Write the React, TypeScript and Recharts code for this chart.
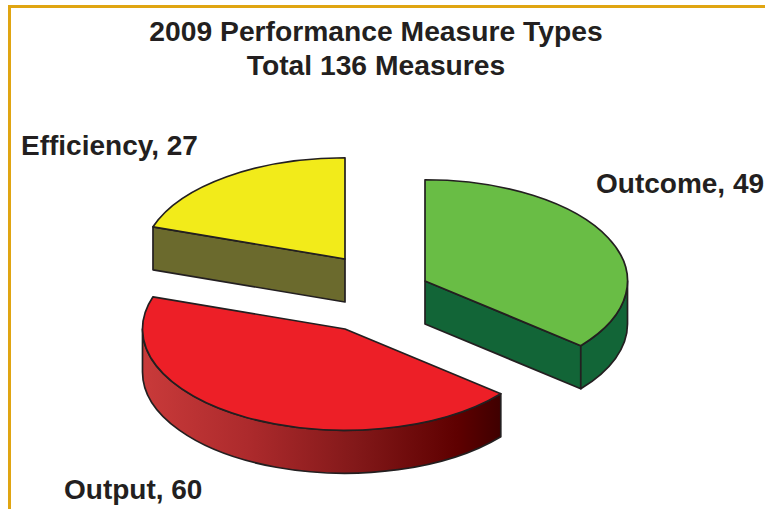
import { PieChart, Pie } from "recharts";

const categories = ["Outcome", "Output", "Efficiency"];
const measures = [49, 60, 27];

const topColors = ["#69bd45", "#ed1f27", "#f2eb1a"];
const wallColors = ["#126537", "url(#outputWall)", "#6b6a2d"];
const explodeOffsets = [
  { dx: 80, dy: 0 },
  { dx: 0, dy: 48 },
  { dx: 0, dy: -22 },
];
const labelPositions = [
  { x: 596, y: 193 },
  { x: 64, y: 499 },
  { x: 21, y: 155 },
];

const chartData = categories.map((name, i) => ({ name, value: measures[i] }));

const SQUASH = 0.5;
const DEPTH = 43;
const INK = "#231f20";
const FONT = "'Liberation Sans', Arial, sans-serif";

const rad = (deg: number) => (deg * Math.PI) / 180;

function Slice3D(props: any) {
  const { cx, cy, outerRadius: r, startAngle, endAngle, index } = props;
  const cxx = cx + explodeOffsets[index].dx;
  const cyy = cy + explodeOffsets[index].dy;
  const rx = r;
  const ry = r * SQUASH;
  const pt = (a: number, drop = 0) => [cxx + rx * Math.cos(rad(a)), cyy - ry * Math.sin(rad(a)) + drop];
  const hi = Math.max(startAngle, endAngle);
  const lo = Math.min(startAngle, endAngle);

  // angles run clockwise on screen from hi down to lo
  const arc = (from: number, to: number, drop = 0, move = true) => {
    const [x0, y0] = pt(from, drop);
    const [x1, y1] = pt(to, drop);
    const large = Math.abs(from - to) > 180 ? 1 : 0;
    const sweep = from > to ? 1 : 0;
    return `${move ? "M" : "L"}${x0},${y0} A${rx},${ry} 0 ${large} ${sweep} ${x1},${y1}`;
  };

  // outer wall only where the rim faces the viewer (lower half of the ellipse)
  const walls: string[] = [];
  for (const k of [0, -360, 360]) {
    const a = Math.min(hi, 0 + k);
    const b = Math.max(lo, -180 + k);
    if (a > b) {
      const [xe, ye] = pt(b);
      const [xs, ys] = pt(a);
      walls.push(`${arc(a, b)} L${xe},${ye + DEPTH} ${arc(b, a, DEPTH, false).replace(/^L[^ ]+ /, "")} L${xs},${ys} Z`);
    }
  }

  // cut faces that look toward the viewer
  const faces: string[] = [];
  const face = (a: number) => {
    const [x, y] = pt(a);
    return `M${cxx},${cyy} L${x},${y} L${x},${y + DEPTH} L${cxx},${cyy + DEPTH} Z`;
  };
  if (Math.cos(rad(lo)) > 0.01) faces.push(face(lo));
  if (Math.cos(rad(hi)) < -0.01) faces.push(face(hi));

  const [sx, sy] = pt(hi);
  const top = `M${cxx},${cyy} L${sx},${sy} ${arc(hi, lo, 0, false).replace(/^L[^ ]+ /, "")} Z`;

  return (
    <g>
      {faces.map((d, i) => (
        <path key={`f${i}`} d={d} fill={wallColors[index]} stroke={INK} strokeWidth={1.7} strokeLinejoin="round" />
      ))}
      {walls.map((d, i) => (
        <path key={`w${i}`} d={d} fill={wallColors[index]} stroke={INK} strokeWidth={1.7} strokeLinejoin="round" />
      ))}
      <path d={top} fill={topColors[index]} stroke={INK} strokeWidth={1.7} strokeLinejoin="round" />
      <text x={labelPositions[index].x} y={labelPositions[index].y} fontFamily={FONT} fontWeight="bold" fontSize={28} fill={INK}>
        {`${categories[index]}, ${measures[index]}`}
      </text>
    </g>
  );
}

export default function App() {
  return (
    <div style={{ position: "fixed", left: 0, top: 0, width: 765, height: 509, background: "#fff", overflow: "hidden" }}>
      <div
        style={{
          position: "absolute",
          left: 8,
          top: 5,
          width: 757,
          height: 504,
          boxSizing: "border-box",
          borderLeft: "3px solid #e0a512",
          borderTop: "3px solid #e0a512",
        }}
      />
      <div style={{ position: "absolute", left: 0, top: 0 }}>
        <PieChart width={765} height={509} margin={{ top: 0, right: 0, bottom: 0, left: 0 }}>
          <defs>
            <linearGradient id="outputWall" x1="0" y1="0" x2="1" y2="0">
              <stop offset="0%" stopColor="#c93a3a" />
              <stop offset="30%" stopColor="#ac2a2c" />
              <stop offset="60%" stopColor="#821819" />
              <stop offset="88%" stopColor="#5e0000" />
              <stop offset="100%" stopColor="#3f0000" />
            </linearGradient>
          </defs>
          <text x={376} y={41} textAnchor="middle" fontFamily={FONT} fontWeight="bold" fontSize={28.25} fill={INK}>
            2009 Performance Measure Types
          </text>
          <text x={376} y={75} textAnchor="middle" fontFamily={FONT} fontWeight="bold" fontSize={28.25} fill={INK}>
            Total 136 Measures
          </text>
          <Pie
            data={chartData}
            dataKey="value"
            nameKey="name"
            cx={345}
            cy={281}
            innerRadius={0}
            outerRadius={202.5}
            startAngle={90}
            endAngle={-270}
            paddingAngle={0}
            shape={Slice3D}
            isAnimationActive={false}
          />
        </PieChart>
      </div>
    </div>
  );
}
